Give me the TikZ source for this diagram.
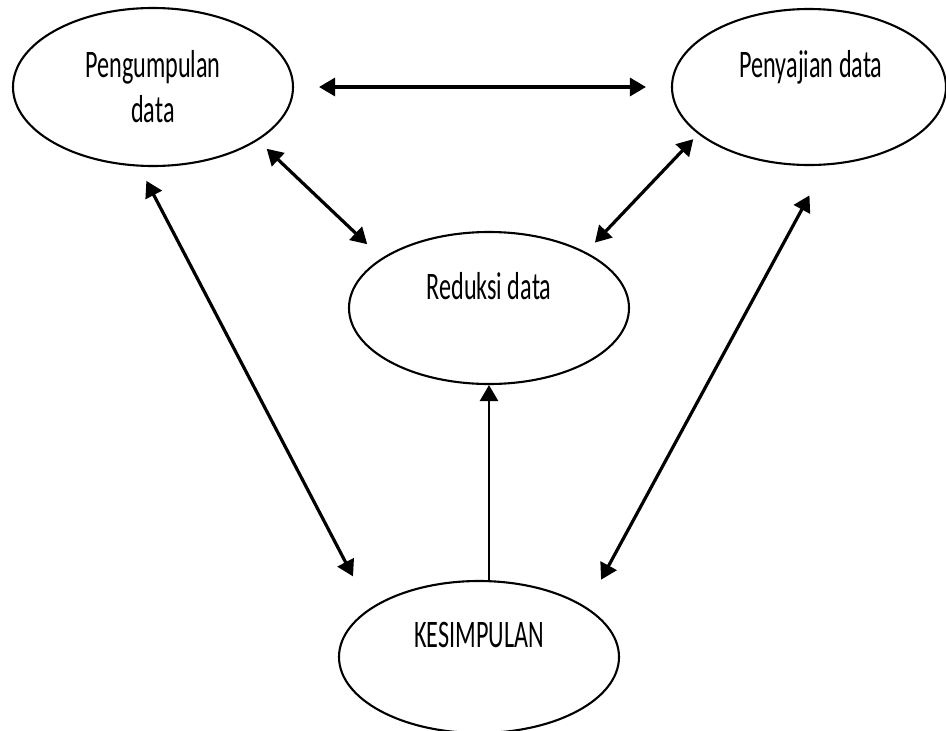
\documentclass[tikz,border=0pt]{standalone}
\usepackage{fontspec}
\setmainfont{Carlito}[FakeStretch=0.62]
\usetikzlibrary{arrows.meta,positioning,shapes.geometric}
\tikzset{
  ovalnode/.style={draw,ellipse,line width=2.1pt,inner sep=0pt},
  labeltext/.style={font=\fontsize{39}{46}\selectfont,align=center,inner sep=0pt},
  dblarrow/.style={{Triangle[length=16pt,width=18pt]}-{Triangle[length=16pt,width=18pt]},line width=3.2pt},
  onearrow/.style={-{Triangle[length=16pt,width=18pt]},line width=2.6pt}
}

\begin{document}
\begin{tikzpicture}[x=1pt,y=-1pt]
  \useasboundingbox (0,0) rectangle (946,731);

  % ellipses
  \node[ovalnode,minimum width=280pt,minimum height=158pt] (pengumpulan) at (153,87) {};
  \node[ovalnode,minimum width=274pt,minimum height=156pt] (penyajian) at (809,87) {};
  \node[ovalnode,minimum width=280pt,minimum height=152pt] (reduksi) at (489,308) {};
  \node[ovalnode,minimum width=280pt,minimum height=152pt] (kesimpulan) at (479,657) {};

  % texts
  \node[labeltext,anchor=base] (pengumpulantext) at (153,77) {Pengumpulan};
  \node[labeltext,anchor=base] (pengumpulandata) at (153,122) {data};
  \node[labeltext,anchor=base] (penyajiantext) at (811,77) {Penyajian data};
  \node[labeltext,anchor=base] (reduksitext) at (489,299) {Reduksi data};
  \node[labeltext,anchor=base] (kesimpulantext) at (479,647) {KESIMPULAN};

  % arrows
  \draw[dblarrow,shorten <=12pt,shorten >=20pt] (pengumpulan.-27.5) -- (reduksi.155);
  \draw[dblarrow,shorten <=25pt,shorten >=25pt] (pengumpulan) -- (penyajian);
  \draw[dblarrow,shorten <=7pt,shorten >=13pt] (penyajian.-157.6) -- (reduksi.30.3);
  \draw[dblarrow,shorten <=16pt,shorten >=36pt] (pengumpulan.-100.5) -- (kesimpulan.156.9);
  \draw[dblarrow,shorten <=34pt,shorten >=31pt] (penyajian.-78.8) -- (kesimpulan.25.1);
  \draw[onearrow] (kesimpulan.north -| reduksi.south) -- (reduksi.south);
\end{tikzpicture}
\end{document}
